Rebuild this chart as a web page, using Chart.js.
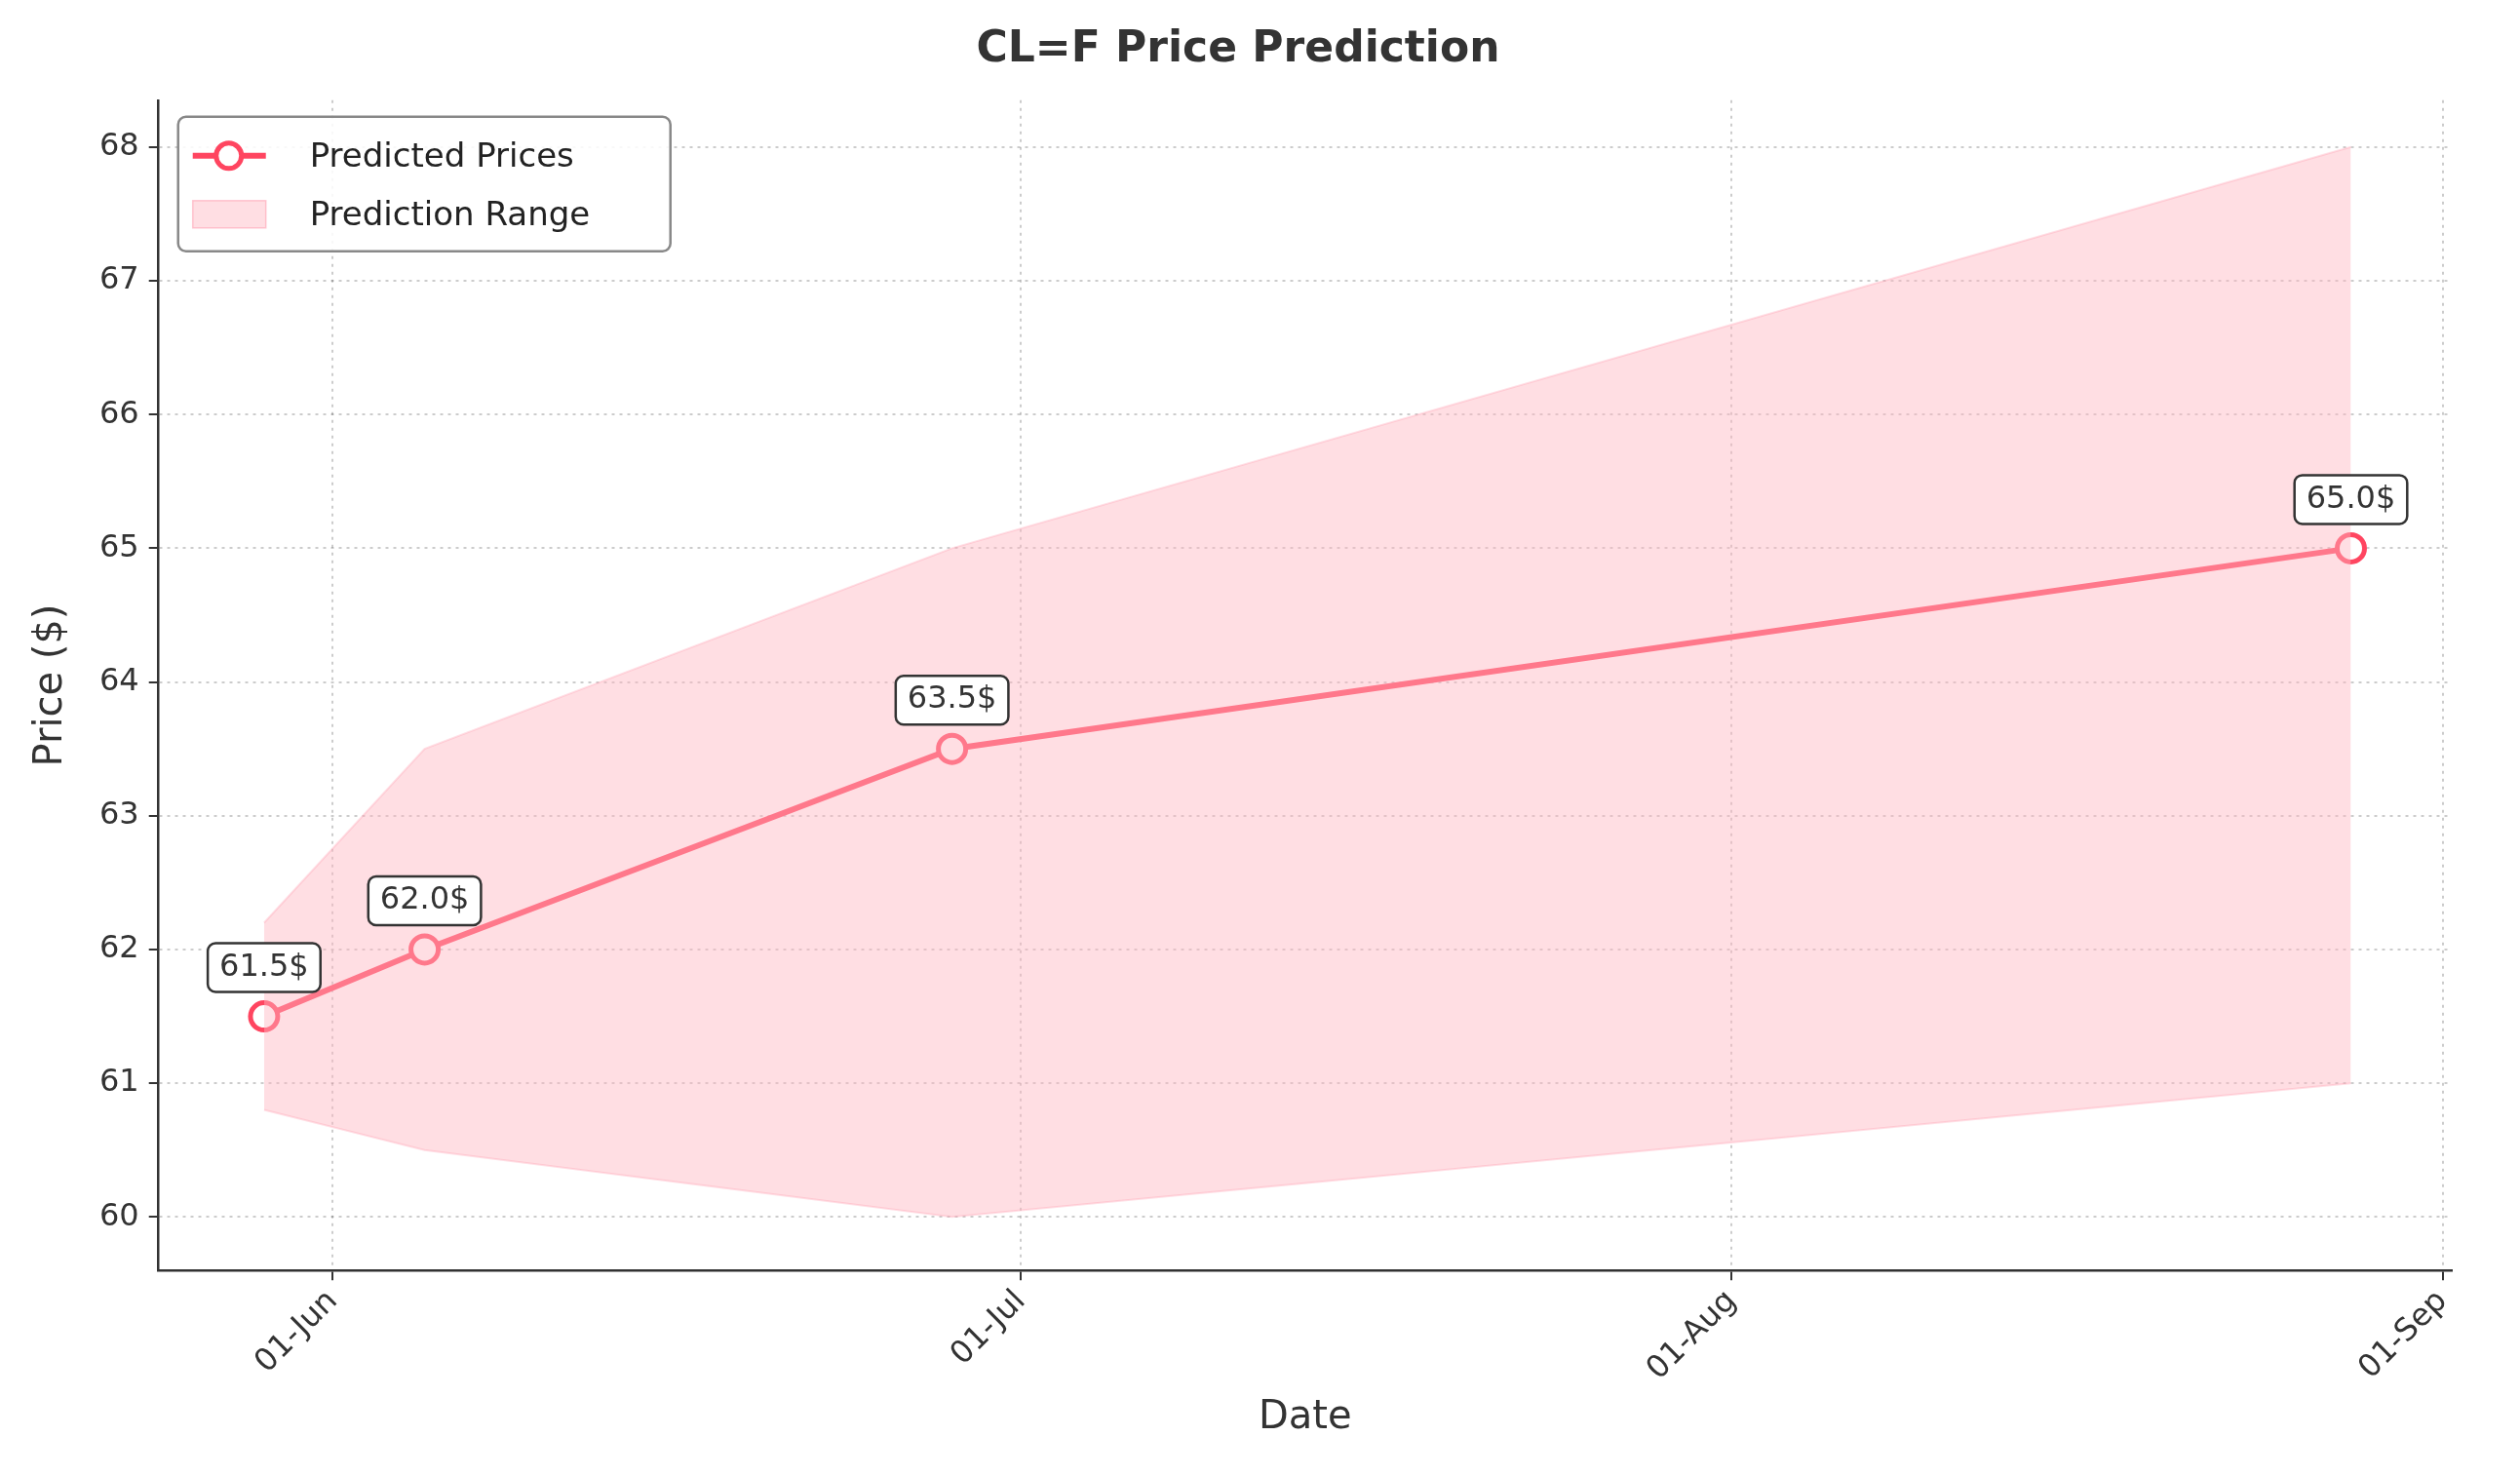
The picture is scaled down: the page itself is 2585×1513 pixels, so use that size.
<!DOCTYPE html><html><head><script src="https://cdn.jsdelivr.net/npm/chart.js@4"></script>
<style>body{margin:0;background:#fff}#w{width:2585px;height:1513px}</style></head><body><div id="w"><canvas id="c"></canvas></div>
<script>
const dayOffsets=[-3,4,27,88]; // days from 01-Jun
const predicted=[61.5,62.0,63.5,65.0];
const lower=[60.8,60.5,60.0,61.0];
const upper=[62.2,63.5,65.0,68.0];
const tickDays=[0,30,61,92];
const tickLabels=['01-Jun','01-Jul','01-Aug','01-Sep'];
const F='DejaVu Sans';
const pts=a=>a.map((v,i)=>({x:dayOffsets[i],y:v}));
const extras={id:'extras',afterDatasetsDraw(ch){
 const c=ch.ctx,xs=ch.scales.x,ys=ch.scales.y;
 c.save();c.font='32px '+F;c.textAlign='center';c.textBaseline='middle';
 predicted.forEach((v,i)=>{const x=xs.getPixelForValue(dayOffsets[i]),y=ys.getPixelForValue(v)-50;
  const t=v.toFixed(1)+'$',w=c.measureText(t).width+24,h=50;
  c.beginPath();c.roundRect(x-w/2,y-h/2,w,h,8);c.fillStyle='#fff';c.fill();c.lineWidth=2.5;c.strokeStyle='#333';c.stroke();
  c.fillStyle='#333';c.fillText(t,x,y);});
 const L=ch.chartArea.left+20,T=ch.chartArea.top+17;
 c.beginPath();c.roundRect(L,T,505,138,8);c.fillStyle='rgba(255,255,255,0.85)';c.fill();c.strokeStyle='#888';c.lineWidth=2.5;c.stroke();
 c.textAlign='left';c.font='34px '+F;
 c.strokeStyle='#ff4560';c.lineWidth=6;c.beginPath();c.moveTo(L+15,T+40);c.lineTo(L+90,T+40);c.stroke();
 c.beginPath();c.arc(L+52,T+40,13,0,7);c.fillStyle='#fff';c.fill();c.lineWidth=5;c.stroke();
 c.fillStyle='#222';c.fillText('Predicted Prices',L+135,T+42);
 c.fillStyle='rgba(255,182,193,0.45)';c.fillRect(L+15,T+86,75,28);c.strokeStyle='rgba(255,150,170,0.5)';c.lineWidth=1.5;c.strokeRect(L+15,T+86,75,28);
 c.fillStyle='#222';c.fillText('Prediction Range',L+135,T+102);
 c.restore();}};
const gridOpt={color:'rgba(0,0,0,0.2)',lineWidth:2,drawTicks:true,tickColor:'#333',tickLength:10,tickBorderDash:[],tickWidth:2};
new Chart(document.getElementById('c'),{type:'line',plugins:[extras],
data:{datasets:[
 {data:pts(lower),borderColor:'rgba(255,150,170,0.3)',borderWidth:2,pointRadius:0,fill:false},
 {data:pts(upper),borderColor:'rgba(255,150,170,0.3)',borderWidth:2,pointRadius:0,fill:'-1',backgroundColor:'rgba(255,182,193,0.45)'},
 {data:pts(predicted),borderColor:'#ff4560',borderWidth:6,pointRadius:14,pointBorderWidth:5,pointBackgroundColor:'#fff',pointBorderColor:'#ff4560',fill:false}]},
options:{responsive:true,maintainAspectRatio:false,animation:false,devicePixelRatio:1,
 layout:{padding:{left:25,right:70,top:10,bottom:30}},
 plugins:{legend:{display:false},tooltip:{enabled:false},
  title:{display:true,text:'CL=F Price Prediction',font:{family:F,size:44,weight:'bold'},color:'#333',padding:{top:15,bottom:25}}},
 scales:{
  x:{type:'linear',min:-7.6,max:92.4,afterBuildTicks:a=>{a.ticks=tickDays.map(v=>({value:v}))},
   ticks:{callback:v=>tickLabels[tickDays.indexOf(v)],maxRotation:45,minRotation:45,font:{family:F,size:32},color:'#333'},
   grid:gridOpt,border:{color:'#333',width:2.5,dash:[3,5]},
   title:{display:true,text:'Date',font:{family:F,size:40},color:'#333'}},
  y:{min:59.6,max:68.35,afterBuildTicks:a=>{a.ticks=[60,61,62,63,64,65,66,67,68].map(v=>({value:v}))},
   ticks:{font:{family:F,size:32},color:'#333',padding:10},
   grid:gridOpt,border:{color:'#333',width:2.5,dash:[3,5]},
   title:{display:true,text:'Price ($)',font:{family:F,size:40},color:'#333',padding:{bottom:15}}}}}});
</script></body></html>
